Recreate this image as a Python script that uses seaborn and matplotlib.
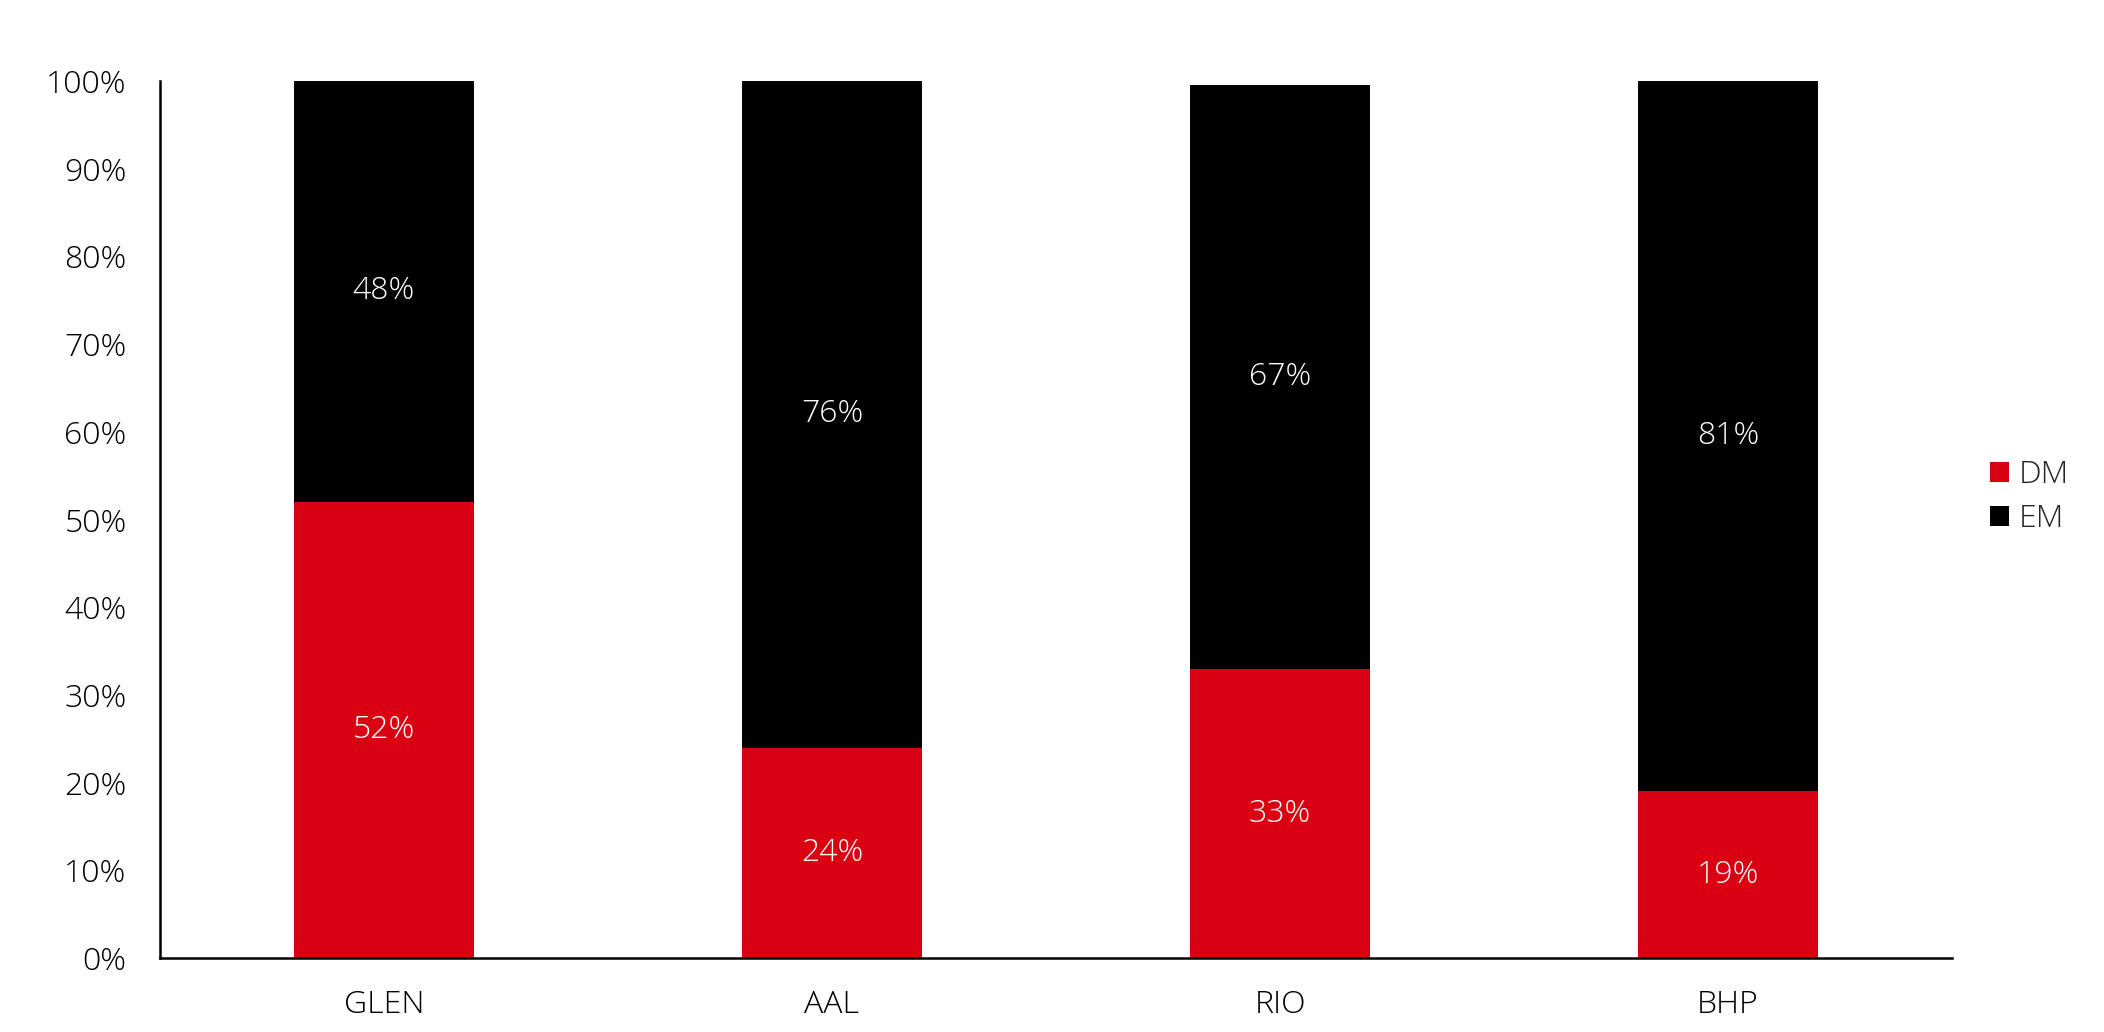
import pandas as pd
import matplotlib
matplotlib.use("Agg")
import matplotlib.pyplot as plt
import seaborn as sns

# Data
companies = ["GLEN", "AAL", "RIO", "BHP"]
dm_share = [52.0, 24.0, 32.9, 19.0]
em_share = [48.0, 76.0, 66.6, 81.0]

RED = "#DA0012"
BLACK = "#000000"

sns.set_theme(style="white")
plt.rcParams["font.family"] = ["Open Sans", "DejaVu Sans"]
plt.rcParams["font.weight"] = "light"

df = pd.DataFrame({"company": companies, "DM": dm_share, "EM": em_share})
df["total"] = df["DM"] + df["EM"]

fig = plt.figure(figsize=(21.04, 10.32), dpi=100)
ax = fig.add_axes([0.0760, 0.0717, 0.9278 - 0.0760, 0.9215 - 0.0717])

# stacked bars: full height black (EM on top), then red DM at the bottom
sns.barplot(data=df, x="company", y="total", color=BLACK, width=0.4,
            saturation=1, ax=ax, label="EM")
sns.barplot(data=df, x="company", y="DM", color=RED, width=0.4,
            saturation=1, ax=ax, label="DM")
for p in ax.patches:
    p.set_edgecolor("none")
    p.set_linewidth(0)

# segment labels
for i, row in df.iterrows():
    ax.text(i, row["DM"] / 2, f"{row['DM']:.0f}%", color="white",
            ha="center", va="center", fontsize=23)
    ax.text(i, row["DM"] + row["EM"] / 2, f"{row['EM']:.0f}%", color="white",
            ha="center", va="center", fontsize=23)

ax.set_xlim(-0.5, len(companies) - 0.5)
ax.set_ylim(0, 100)
ax.set_yticks(range(0, 101, 10))
ax.set_yticklabels([f"{v}%" for v in range(0, 101, 10)])
ax.set_xlabel("")
ax.set_ylabel("")
ax.tick_params(axis="both", length=0, labelsize=23, colors="black")
ax.tick_params(axis="y", pad=24)
ax.tick_params(axis="x", pad=22)

for side in ["top", "right"]:
    ax.spines[side].set_visible(False)
for side in ["left", "bottom"]:
    ax.spines[side].set_color("black")
    ax.spines[side].set_linewidth(1.8)

handles, labels = ax.get_legend_handles_labels()
order = [labels.index("DM"), labels.index("EM")]
leg = fig.legend([handles[k] for k in order], [labels[k] for k in order],
                 loc="center left", bbox_to_anchor=(0.946, 0.518),
                 frameon=False, fontsize=23, handlelength=0.58,
                 handleheight=0.58, handletextpad=0.3, labelspacing=0.38,
                 borderpad=0, borderaxespad=0)
if ax.get_legend() is not None:
    ax.get_legend().remove()

fig.savefig("out.png", dpi=100)
plt.close(fig)
